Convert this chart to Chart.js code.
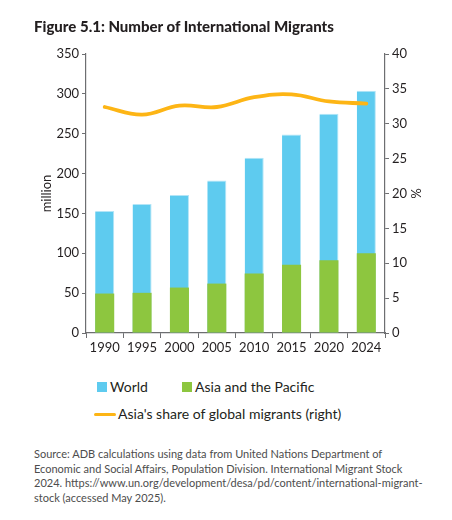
<!DOCTYPE html>
<html>
<head>
<meta charset="utf-8">
<script src="https://cdn.jsdelivr.net/npm/chart.js@4"></script>
<style>
  html, body { margin: 0; padding: 0; background: #fff; }
  body { width: 452px; height: 520px; position: relative; overflow: hidden; font-family: Lato, "Noto Sans", sans-serif; color: #231f20; }
  #wrap { position: absolute; left: 0; top: 0; width: 452px; height: 370px; }
  #title { position: absolute; left: 34px; top: 17px; font-size: 15px; font-weight: 900; color: #231f20; white-space: nowrap; }
  .leg { position: absolute; font-size: 14px; white-space: nowrap; color: #231f20; }
  .box { position: absolute; width: 10px; height: 10px; }
  .ln { position: absolute; width: 22px; height: 3px; background: #fdb515; border-radius: 2px; }
  #src { position: absolute; left: 34px; top: 447px; width: 410px; font-size: 11px; line-height: 14.7px; color: #4d4d4d; white-space: nowrap; }
</style>
</head>
<body>
<div id="wrap"><canvas id="c"></canvas></div>
<div id="title">Figure 5.1: Number of International Migrants</div>
<div class="box" style="left:97px;top:382px;background:#5ecbef"></div>
<div class="leg" style="left:110px;top:378px">World</div>
<div class="box" style="left:182px;top:382px;background:#8dc63f"></div>
<div class="leg" style="left:195px;top:378px">Asia and the Pacific</div>
<div class="ln" style="left:94px;top:413px"></div>
<div class="leg" style="left:118px;top:405px">Asia's share of global migrants (right)</div>
<div id="src">Source: ADB calculations using data from United Nations Department of<br>Economic and Social Affairs, Population Division. International Migrant Stock<br>2024. https://www.un.org/development/desa/pd/content/international-migrant-<br>stock (accessed May 2025).</div>
<script>
const years = ["1990", "1995", "2000", "2005", "2010", "2015", "2020", "2024"];
const world = [152.9, 161.7, 173.2, 191.4, 220.0, 249.0, 275.0, 304.0];
const asiaPacific = [49.5, 50.4, 57.0, 62.0, 74.5, 85.5, 91.3, 100.0];
const asiaShare = [32.4, 31.3, 32.6, 32.4, 33.8, 34.2, 33.2, 32.9];
const leftTicks = [0, 50, 100, 150, 200, 250, 300, 350];
const rightTicks = [0, 5, 10, 15, 20, 25, 30, 35, 40];

const axisColor = '#6d6e71';
const tickFont = { family: 'Lato', size: 13 };

new Chart(document.getElementById('c'), {
  type: 'bar',
  data: {
    labels: years,
    datasets: [
      {
        type: 'line', label: "Asia's share of global migrants (right)", data: asiaShare,
        yAxisID: 'y2', borderColor: '#fdb515', backgroundColor: '#fdb515',
        borderWidth: 3.8, tension: 0.4, pointRadius: 0, order: 0, borderCapStyle: 'round'
      },
      {
        label: 'Asia and the Pacific', data: asiaPacific, yAxisID: 'y',
        backgroundColor: '#8dc63f', order: 1,
        barPercentage: 0.51, categoryPercentage: 1.0
      },
      {
        label: 'World', data: world, yAxisID: 'y',
        backgroundColor: '#5ecbef', order: 2,
        borderColor: '#b3e5f7', borderWidth: { top: 1, right: 1 }, borderSkipped: false,
        barPercentage: 0.51, categoryPercentage: 1.0
      }
    ]
  },
  options: {
    responsive: true,
    maintainAspectRatio: false,
    animation: false,
    layout: { padding: { top: 54, left: 0, right: 0, bottom: 0 } },
    plugins: { legend: { display: false }, tooltip: { enabled: false } },
    scales: {
      x: {
        stacked: true,
        offset: true,
        grid: { display: true, drawOnChartArea: false, offset: true, tickLength: 5, color: axisColor },
        border: { display: true, color: axisColor, width: 1.2 },
        ticks: { color: '#231f20', font: tickFont, padding: 2, maxRotation: 0, autoSkip: false },
        afterFit: s => { s.height = 37; }
      },
      y: {
        position: 'left', min: 0, max: 350,
        afterBuildTicks: s => { s.ticks = leftTicks.map(v => ({ value: v })); },
        grid: { display: true, drawOnChartArea: false, tickLength: 4, color: axisColor },
        border: { display: true, color: axisColor, width: 1.2 },
        ticks: { color: '#231f20', font: tickFont, padding: 3 },
        title: { display: true, text: 'million', color: '#231f20', font: { family: 'Lato', size: 13 }, padding: { top: 39, bottom: 0 } },
        afterFit: s => { s.width = 86; }
      },
      y2: {
        position: 'right', min: 0, max: 40,
        afterBuildTicks: s => { s.ticks = rightTicks.map(v => ({ value: v })); },
        grid: { display: true, drawOnChartArea: false, tickLength: 4, color: axisColor },
        border: { display: true, color: axisColor, width: 1.2 },
        ticks: { color: '#231f20', font: tickFont, padding: 3 },
        title: { display: true, text: '%', color: '#231f20', font: { family: 'Lato', size: 13 }, padding: { top: 29, bottom: 0 } },
        afterFit: s => { s.width = 67; }
      }
    }
  }
});
</script>
</body>
</html>
